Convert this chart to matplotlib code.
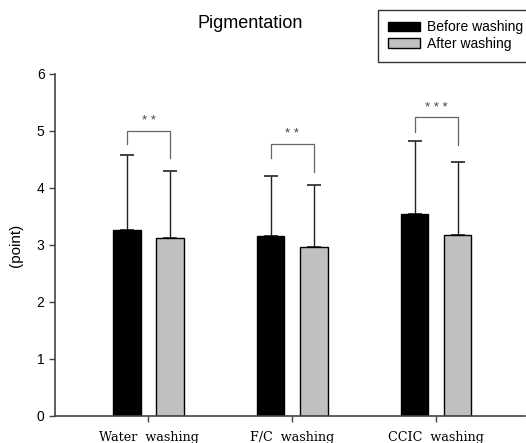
import matplotlib
matplotlib.use("Agg")
import matplotlib.pyplot as plt
from matplotlib.patches import Patch

categories = ["Water  washing", "F/C  washing", "CCIC  washing"]
before_mean = [3.26, 3.16, 3.55]
before_sd = [1.32, 1.05, 1.27]
after_mean = [3.12, 2.97, 3.18]
after_sd = [1.18, 1.08, 1.28]
signif = ["* *", "* *", "* * *"]
# bracket: top level, left leg bottom, right leg bottom, star level
bracket_top = [5.00, 4.77, 5.25]
bracket_left = [4.77, 4.53, 4.98]
bracket_right = [4.53, 4.28, 4.75]
star_y = [5.17, 4.95, 5.40]
yticks = [0, 1, 2, 3, 4, 5, 6]

plt.rcParams['font.family'] = ['Liberation Sans', 'DejaVu Sans']

fig = plt.figure(figsize=(5.26, 4.43), dpi=100)
ax = fig.add_axes([0.1046, 0.061, 0.894, 0.772])

x = list(range(len(categories)))
w = 0.19
off = 0.15
xb = [i - off for i in x]
xa = [i + off for i in x]

ax.bar(xb, before_mean, width=w, color="black", edgecolor="black", linewidth=1, zorder=2)
ax.bar(xa, after_mean, width=w, color="#C0C0C0", edgecolor="black", linewidth=1, zorder=2)
ax.errorbar(xb, before_mean, yerr=[[0]*3, before_sd], fmt="none", ecolor="#222222",
            elinewidth=1, capsize=5, capthick=1.2, zorder=1)
ax.errorbar(xa, after_mean, yerr=[[0]*3, after_sd], fmt="none", ecolor="#222222",
            elinewidth=1, capsize=5, capthick=1.2, zorder=1)

for i in x:
    ax.plot([xb[i], xb[i], xa[i], xa[i]],
            [bracket_left[i], bracket_top[i], bracket_top[i], bracket_right[i]],
            color="#666666", lw=0.9)
    ax.text(i, star_y[i], signif[i], ha="center", va="center", fontsize=9.5, color="#444444")

ax.set_xlim(-0.65, 2.62)
ax.set_ylim(0, 6)
ax.set_yticks(yticks)
ax.set_yticklabels([str(v) for v in yticks], fontsize=10)
ax.set_xticks(x)
ax.set_xticklabels(categories, fontsize=9.2, family=['DejaVu Serif'])
ax.tick_params(axis='both', direction='out', length=4, width=1, color="#444444")
ax.tick_params(axis='x', pad=7)
for s in ["top", "right"]:
    ax.spines[s].set_visible(False)
for s in ["left", "bottom"]:
    ax.spines[s].set_color("#444444")
    ax.spines[s].set_linewidth(1.2)

ax.set_ylabel("(point)", fontsize=11, labelpad=10)

fig.text(0.475, 0.948, "Pigmentation", ha="center", va="center", fontsize=13)

handles = [Patch(facecolor="black", edgecolor="black", label="Before washing"),
           Patch(facecolor="#C0C0C0", edgecolor="black", label="After washing")]
leg = fig.legend(handles=handles, loc="upper left", bbox_to_anchor=(0.7186, 0.9774),
                 frameon=True, fancybox=False, edgecolor="black", fontsize=10,
                 handlelength=2.3, handleheight=0.7, borderpad=0.75, labelspacing=0.2,
                 handletextpad=0.5, borderaxespad=0)
leg.get_frame().set_linewidth(1)

fig.savefig("out.png", dpi=100)
